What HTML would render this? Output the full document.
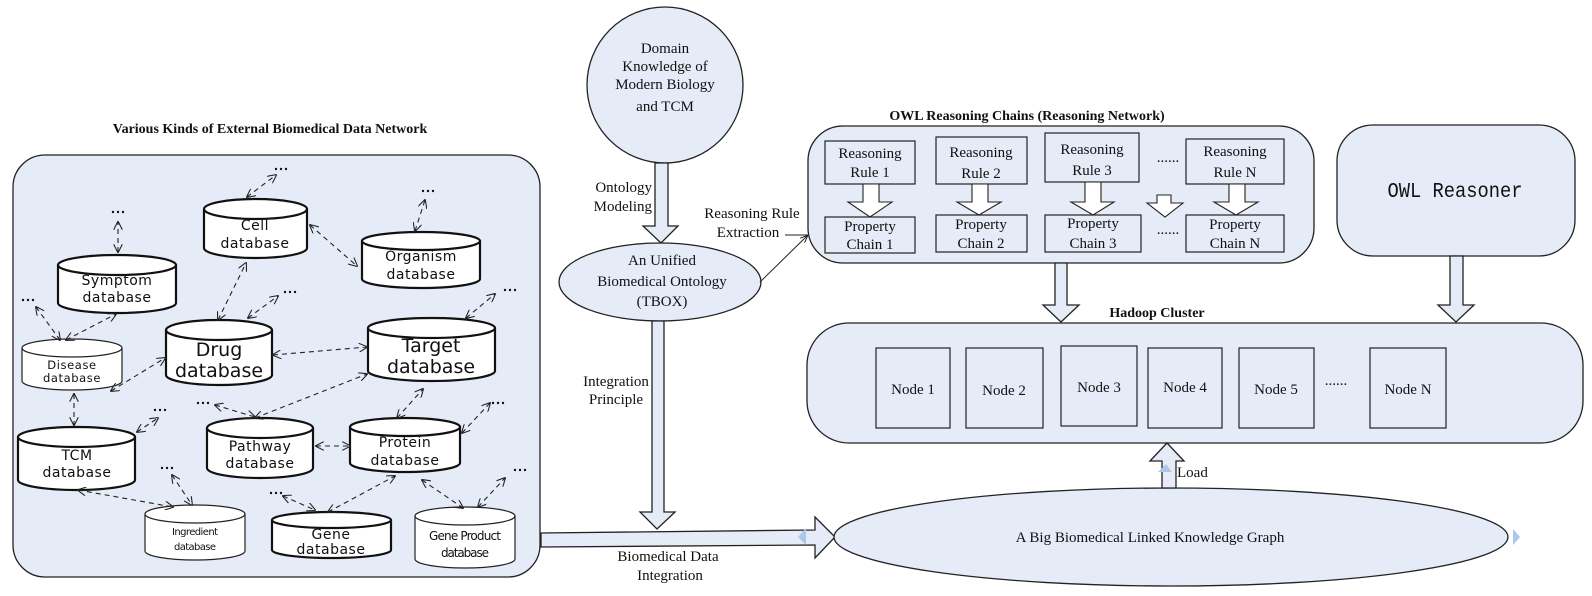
<!DOCTYPE html>
<html><head><meta charset="utf-8"><style>
html,body{margin:0;padding:0;background:#fff;width:1592px;height:596px;overflow:hidden}
svg{display:block}
.sr{font-family:"Liberation Serif",serif;fill:#111}
.ss{font-family:"DejaVu Sans","Liberation Sans",sans-serif;fill:#111}
</style></head><body>
<svg width="1592" height="596" viewBox="0 0 1592 596" xmlns="http://www.w3.org/2000/svg">
<defs>
<marker id="a" viewBox="0 0 10 10" refX="9" refY="5" markerWidth="9" markerHeight="9" orient="auto-start-reverse" markerUnits="userSpaceOnUse">
<path d="M0,0 L10,5 L0,10" fill="none" stroke="#222" stroke-width="1.2"/></marker>
<marker id="t" viewBox="0 0 10 10" refX="10" refY="5" markerWidth="8" markerHeight="8" orient="auto" markerUnits="userSpaceOnUse">
<path d="M0,1 L10,5 L0,9" fill="none" stroke="#222" stroke-width="1.2"/></marker>
</defs>
<g fill="#e5ecf7" stroke="#222" stroke-width="1.3">
<rect x="13" y="155" width="527" height="422" rx="32"/>
<circle cx="665" cy="85" r="78"/>
<path d="M655,163 L668,163 L668,226 L678,226 L661,243 L643,226 L655,226 Z"/>
<ellipse cx="660" cy="282" rx="101" ry="39"/>
<path d="M652,321 L664,321 L664,512 L675,512 L657,529 L640,512 L652,512 Z"/>
<path d="M541,533 L815,530 L815,517 L835,537 L815,558 L815,545 L541,547 Z"/>
<rect x="808" y="126" width="506" height="137" rx="35"/>
<rect x="1337" y="125" width="238" height="131" rx="36"/>
<path d="M1055,263 L1067,263 L1067,305 L1079,305 L1061,322 L1043,305 L1055,305 Z"/>
<path d="M1450,256 L1463,256 L1463,305 L1474,305 L1456,322 L1438,305 L1450,305 Z"/>
<rect x="807" y="323" width="776" height="120" rx="42"/>
<ellipse cx="1171" cy="537" rx="337" ry="49"/>
<path d="M1162,488 L1176,488 L1176,461 L1184,461 L1167,443 L1150,461 L1162,461 Z"/>
</g>
<line x1="760" y1="282" x2="808" y2="235" stroke="#222" stroke-width="1" marker-end="url(#t)"/>
<line x1="785" y1="235" x2="808" y2="235" stroke="#222" stroke-width="1"/>
<g fill="#e5ecf7" stroke="#222" stroke-width="1.2">
<rect x="825" y="141" width="90" height="43"/><rect x="936" y="137" width="91" height="47"/>
<rect x="1045" y="133" width="94" height="49"/><rect x="1186" y="139" width="98" height="45"/>
<rect x="825" y="217" width="90" height="36"/><rect x="936" y="215" width="91" height="37"/>
<rect x="1045" y="215" width="96" height="37"/><rect x="1186" y="215" width="98" height="37"/>
</g>
<g fill="#fff" stroke="#222" stroke-width="1.1">
<path d="M863,184 L879,184 L879,202 L892,202 L870,217 L848,202 L863,202 Z"/>
<path d="M972,184 L988,184 L988,202 L1001,202 L979,215 L957,202 L972,202 Z"/>
<path d="M1085,182 L1101,182 L1101,202 L1114,202 L1093,215 L1071,202 L1085,202 Z"/>
<path d="M1157,195 L1171,195 L1171,203 L1183,203 L1165,217 L1147,203 L1157,203 Z"/>
<path d="M1229,184 L1245,184 L1245,202 L1258,202 L1236,215 L1214,202 L1229,202 Z"/>
</g>
<g fill="#e5ecf7" stroke="#222" stroke-width="1.2">
<rect x="876" y="348" width="74" height="80"/><rect x="966" y="348" width="77" height="80"/>
<rect x="1061" y="346" width="76" height="80"/><rect x="1148" y="348" width="74" height="80"/>
<rect x="1239" y="348" width="75" height="80"/><rect x="1370" y="348" width="76" height="80"/>
</g>
<g fill="#a9c8ec"><path d="M1158,472 L1166,464 L1172,472 Z"/><path d="M806,528 L806,545 L798,537 Z"/><path d="M1513,529 L1513,545 L1520,537 Z"/></g>
<g class="sr" font-size="15" text-anchor="middle">
<text x="665" y="53">Domain</text><text x="665" y="71">Knowledge of</text><text x="665" y="89">Modern Biology</text><text x="665" y="111">and TCM</text>
<text x="652" y="192" text-anchor="end">Ontology</text><text x="652" y="211" text-anchor="end">Modeling</text>
<text x="752" y="218">Reasoning Rule</text><text x="748" y="237">Extraction</text>
<text x="662" y="265">An Unified</text><text x="662" y="286">Biomedical Ontology</text><text x="662" y="306">(TBOX)</text>
<text x="616" y="386">Integration</text><text x="616" y="404">Principle</text>
<text x="668" y="561">Biomedical Data</text><text x="670" y="580">Integration</text>
<text x="870" y="158">Reasoning</text><text x="870" y="177">Rule 1</text>
<text x="981" y="157">Reasoning</text><text x="981" y="178">Rule 2</text>
<text x="1092" y="154">Reasoning</text><text x="1092" y="175">Rule 3</text>
<text x="1235" y="156">Reasoning</text><text x="1235" y="177">Rule N</text>
<text x="870" y="231">Property</text><text x="870" y="249">Chain 1</text>
<text x="981" y="229">Property</text><text x="981" y="248">Chain 2</text>
<text x="1093" y="228">Property</text><text x="1093" y="248">Chain 3</text>
<text x="1235" y="229">Property</text><text x="1235" y="248">Chain N</text>
<text x="1168" y="162">......</text><text x="1168" y="234">......</text>
<text x="1150" y="542" font-size="15">A Big Biomedical Linked Knowledge Graph</text>
<text x="913" y="394">Node 1</text><text x="1004" y="395">Node 2</text><text x="1099" y="392">Node 3</text>
<text x="1185" y="392">Node 4</text><text x="1276" y="394">Node 5</text><text x="1408" y="394">Node N</text>
<text x="1336" y="385">......</text>
</g>
<text x="1455" y="197" font-family="Liberation Mono,monospace" font-size="21" text-anchor="middle" fill="#111" textLength="135" lengthAdjust="spacingAndGlyphs">OWL Reasoner</text>
<text class="sr" x="1177" y="477" font-size="15">Load</text>
<g class="sr" font-size="14" font-weight="bold" text-anchor="middle">
<text x="270" y="133">Various Kinds of External Biomedical Data Network</text>
<text x="1027" y="120">OWL Reasoning Chains (Reasoning Network)</text>
<text x="1157" y="317">Hadoop Cluster</text>
</g>
<g fill="#fff" stroke="#111" stroke-width="2.2">
<path d="M204,209 A51.5,10 0 0 1 307,209 L307,248 A51.5,10 0 0 1 204,248 Z"/><path d="M204,209 A51.5,10 0 0 0 307,209" fill="none"/>
<path d="M362,241 A59,9 0 0 1 480,241 L480,279 A59,9 0 0 1 362,279 Z"/><path d="M362,241 A59,9 0 0 0 480,241" fill="none"/>
<path d="M58,265 A59,10 0 0 1 176,265 L176,303 A59,10 0 0 1 58,303 Z"/><path d="M58,265 A59,10 0 0 0 176,265" fill="none"/>
<path d="M166,330 A53,10 0 0 1 272,330 L272,375 A53,10 0 0 1 166,375 Z"/><path d="M166,330 A53,10 0 0 0 272,330" fill="none"/>
<path d="M368,328 A63.5,10 0 0 1 495,328 L495,371 A63.5,10 0 0 1 368,371 Z"/><path d="M368,328 A63.5,10 0 0 0 495,328" fill="none"/>
<path d="M18,437 A58.5,10 0 0 1 135,437 L135,480 A58.5,10 0 0 1 18,480 Z"/><path d="M18,437 A58.5,10 0 0 0 135,437" fill="none"/>
<path d="M207,428 A53,10 0 0 1 313,428 L313,468 A53,10 0 0 1 207,468 Z"/><path d="M207,428 A53,10 0 0 0 313,428" fill="none"/>
<path d="M350,427 A55,9 0 0 1 460,427 L460,463 A55,9 0 0 1 350,463 Z"/><path d="M350,427 A55,9 0 0 0 460,427" fill="none"/>
<path d="M272,520 A59.5,8 0 0 1 391,520 L391,550 A59.5,8 0 0 1 272,550 Z"/><path d="M272,520 A59.5,8 0 0 0 391,520" fill="none"/>
</g>
<g fill="#fff" stroke="#222" stroke-width="1.2">
<path d="M22,348 A50,9 0 0 1 122,348 L122,381 A50,9 0 0 1 22,381 Z"/><path d="M22,348 A50,9 0 0 0 122,348" fill="none"/>
<path d="M145,514 A50,9 0 0 1 245,514 L245,551 A50,9 0 0 1 145,551 Z"/><path d="M145,514 A50,9 0 0 0 245,514" fill="none"/>
<path d="M415,516 A50,9 0 0 1 515,516 L515,559 A50,9 0 0 1 415,559 Z"/><path d="M415,516 A50,9 0 0 0 515,516" fill="none"/>
</g>
<g class="ss" font-size="14" text-anchor="middle" letter-spacing="0.5">
<text x="255" y="230">Cell</text><text x="255" y="248">database</text>
<text x="421" y="261">Organism</text><text x="421" y="279">database</text>
<text x="117" y="285">Symptom</text><text x="117" y="302">database</text>
<text x="77" y="460">TCM</text><text x="77" y="477">database</text>
<text x="260" y="451">Pathway</text><text x="260" y="468">database</text>
<text x="405" y="447">Protein</text><text x="405" y="465">database</text>
<text x="331" y="539">Gene</text><text x="331" y="554">database</text>
</g>
<g class="ss" text-anchor="middle">
<text x="219" y="356" font-size="19">Drug</text><text x="219" y="377" font-size="19">database</text>
<text x="431" y="352" font-size="19">Target</text><text x="431" y="373" font-size="19">database</text>
<text x="72" y="369" font-size="11.5" letter-spacing="0.6">Disease</text><text x="72" y="382" font-size="11.5" letter-spacing="0.6">database</text>
<text x="195" y="535" font-size="10" textLength="46">Ingredient</text><text x="195" y="550" font-size="10" textLength="42">database</text>
<text x="465" y="540" font-size="12" textLength="72">Gene Product</text><text x="465" y="557" font-size="12" textLength="48">database</text>
</g>
<g fill="#111">
<g transform="translate(281,169)"><circle cx="-5" cy="0" r="1.2"/><circle cx="0" cy="0" r="1.2"/><circle cx="5" cy="0" r="1.2"/></g>
<g transform="translate(428,191)"><circle cx="-5" cy="0" r="1.2"/><circle cx="0" cy="0" r="1.2"/><circle cx="5" cy="0" r="1.2"/></g>
<g transform="translate(118,212)"><circle cx="-5" cy="0" r="1.2"/><circle cx="0" cy="0" r="1.2"/><circle cx="5" cy="0" r="1.2"/></g>
<g transform="translate(28,300)"><circle cx="-5" cy="0" r="1.2"/><circle cx="0" cy="0" r="1.2"/><circle cx="5" cy="0" r="1.2"/></g>
<g transform="translate(290,292)"><circle cx="-5" cy="0" r="1.2"/><circle cx="0" cy="0" r="1.2"/><circle cx="5" cy="0" r="1.2"/></g>
<g transform="translate(510,290)"><circle cx="-5" cy="0" r="1.2"/><circle cx="0" cy="0" r="1.2"/><circle cx="5" cy="0" r="1.2"/></g>
<g transform="translate(160,410)"><circle cx="-5" cy="0" r="1.2"/><circle cx="0" cy="0" r="1.2"/><circle cx="5" cy="0" r="1.2"/></g>
<g transform="translate(203,403)"><circle cx="-5" cy="0" r="1.2"/><circle cx="0" cy="0" r="1.2"/><circle cx="5" cy="0" r="1.2"/></g>
<g transform="translate(498,403)"><circle cx="-5" cy="0" r="1.2"/><circle cx="0" cy="0" r="1.2"/><circle cx="5" cy="0" r="1.2"/></g>
<g transform="translate(167,468)"><circle cx="-5" cy="0" r="1.2"/><circle cx="0" cy="0" r="1.2"/><circle cx="5" cy="0" r="1.2"/></g>
<g transform="translate(276,493)"><circle cx="-5" cy="0" r="1.2"/><circle cx="0" cy="0" r="1.2"/><circle cx="5" cy="0" r="1.2"/></g>
<g transform="translate(520,470)"><circle cx="-5" cy="0" r="1.2"/><circle cx="0" cy="0" r="1.2"/><circle cx="5" cy="0" r="1.2"/></g>
</g>
<g stroke="#222" stroke-width="1.1" stroke-dasharray="5,4" fill="none" marker-start="url(#a)" marker-end="url(#a)">
<line x1="247" y1="197" x2="276" y2="175"/>
<line x1="310" y1="225" x2="357" y2="266"/>
<line x1="415" y1="231" x2="425" y2="200"/>
<line x1="118" y1="252" x2="118" y2="222"/>
<line x1="36" y1="307" x2="60" y2="340"/>
<line x1="66" y1="340" x2="116" y2="314"/>
<line x1="218" y1="320" x2="246" y2="263"/>
<line x1="248" y1="318" x2="278" y2="296"/>
<line x1="273" y1="355" x2="367" y2="347"/>
<line x1="111" y1="391" x2="165" y2="358"/>
<line x1="466" y1="318" x2="495" y2="294"/>
<line x1="74" y1="394" x2="74" y2="425"/>
<line x1="137" y1="432" x2="158" y2="418"/>
<line x1="255" y1="418" x2="367" y2="374"/>
<line x1="215" y1="405" x2="255" y2="417"/>
<line x1="397" y1="418" x2="423" y2="389"/>
<line x1="462" y1="433" x2="490" y2="403"/>
<line x1="316" y1="446" x2="350" y2="446"/>
<line x1="78" y1="490" x2="173" y2="507"/>
<line x1="172" y1="475" x2="192" y2="505"/>
<line x1="283" y1="496" x2="315" y2="510"/>
<line x1="328" y1="512" x2="395" y2="476"/>
<line x1="422" y1="480" x2="463" y2="508"/>
<line x1="478" y1="507" x2="505" y2="478"/>
</g>
</svg>
</body></html>
